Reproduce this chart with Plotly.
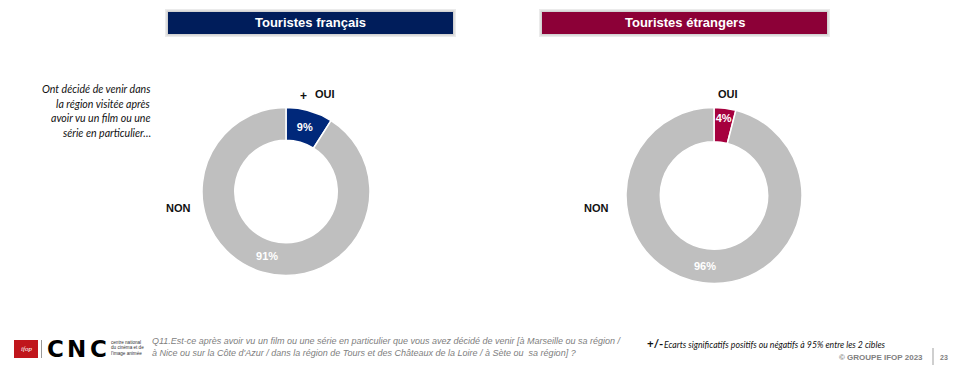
import plotly.graph_objects as go

W, H = 961, 365

# Data
segments = ["OUI", "NON"]
francais = [9, 91]
etrangers = [4, 96]
panel_titles = ["Touristes français", "Touristes étrangers"]
question = ["Q11.Est-ce après avoir vu un film ou une série en particulier que vous avez décidé de venir [à Marseille ou sa région /",
            "à Nice ou sur la Côte d'Azur / dans la région de Tours et des Châteaux de la Loire / à Sète ou  sa région] ?"]
side_note = ["Ont décidé de venir dans", "la région visitée après", "avoir vu un film ou une", "série en particulier…"]

GRAY = "#BFBFBF"
NAVY_T, NAVY = "#001D5B", "#00287A"
RED_T, RED = "#8C0037", "#A6003E"


def px(x):
    return x / W


def py(y):
    return 1 - y / H


fig = go.Figure()

def add_donut(values, color, cx, cy, r):
    fig.add_trace(go.Pie(
        labels=segments, values=values, sort=False, direction="clockwise", rotation=0,
        hole=0.61,
        marker=dict(colors=[color, GRAY], line=dict(color="white", width=1.5)),
        texttemplate="%{value}%", textposition="inside", insidetextorientation="horizontal",
        textfont=dict(family="Liberation Sans", size=11, color="white", weight="bold"),
        domain=dict(x=[px(cx - r), px(cx + r)], y=[py(cy + r), py(cy - r)]),
        showlegend=False, hoverinfo="label+percent",
    ))

add_donut(francais, NAVY, 286, 191.5, 84)
add_donut(etrangers, RED, 714, 195.5, 88)

shapes = []
ann = []

# title boxes
for (x0, x1, col, t) in [(168, 453, NAVY_T, panel_titles[0]), (542, 827, RED_T, panel_titles[1])]:
    shapes.append(dict(type="rect", xref="paper", yref="paper", x0=px(x0 - 3), x1=px(x1 + 3),
                       y0=py(37), y1=py(9), fillcolor="rgba(0,0,0,0.08)", line=dict(width=0), layer="below"))
    shapes.append(dict(type="rect", xref="paper", yref="paper", x0=px(x0 - 1.5), x1=px(x1 + 1.5),
                       y0=py(35.5), y1=py(10.5), fillcolor="rgba(0,0,0,0.10)", line=dict(width=0), layer="below"))
    shapes.append(dict(type="rect", xref="paper", yref="paper", x0=px(x0), x1=px(x1),
                       y0=py(34), y1=py(12), fillcolor=col, line=dict(width=0)))
    ann.append(dict(x=px((x0 + x1) / 2), y=py(23), text=f"<b>{t}</b>", showarrow=False,
                    font=dict(family="Liberation Sans", size=13, color="white"),
                    xanchor="center", yanchor="middle"))

# outside labels
lab_font = dict(family="Liberation Sans", size=11, color="#111111")
for (x, y, t) in [(325, 94, "OUI"), (178, 208, "NON"), (728, 94, "OUI"), (596, 208, "NON")]:
    ann.append(dict(x=px(x), y=py(y), text=f"<b>{t}</b>", showarrow=False, font=lab_font,
                    xanchor="center", yanchor="middle"))
ann.append(dict(x=px(303), y=py(96), text="<b>+</b>", showarrow=False,
                font=dict(family="Liberation Sans", size=12, color="#111111"), xanchor="center", yanchor="middle"))

# side note
for i, line in enumerate(side_note):
    ann.append(dict(x=px(153), y=py(89 + i * 14.6), text=f"<i>{line}</i>", showarrow=False,
                    font=dict(family="Lato", size=10.6, color="#111111"), xanchor="right", yanchor="middle"))

# question
for i, line in enumerate(question):
    ann.append(dict(x=px(150), y=py(341 + i * 11.5), text=f"<i>{line}</i>", showarrow=False,
                    font=dict(family="Liberation Sans", size=9, color="#808080"), xanchor="left", yanchor="middle"))

# significance note
ann.append(dict(x=px(645), y=py(343), text="<b>+/-</b>", showarrow=False,
                font=dict(family="Lato", size=11.5, color="#111111"), xanchor="left", yanchor="middle"))
ann.append(dict(x=px(662), y=py(344), text="<i>Ecarts significatifs positifs ou négatifs à 95% entre les 2 cibles</i>",
                showarrow=False, font=dict(family="Lato", size=8.7, color="#111111"), xanchor="left", yanchor="middle"))

# copyright
ann.append(dict(x=px(925), y=py(357), text="<b>© GROUPE IFOP 2023</b>", showarrow=False,
                font=dict(family="Liberation Sans", size=8, color="#808080"), xanchor="right", yanchor="middle"))
shapes.append(dict(type="line", xref="paper", yref="paper", x0=px(933), x1=px(933), y0=py(365), y1=py(348),
                   line=dict(color="#BFBFBF", width=1.5)))
ann.append(dict(x=px(944), y=py(357), text="<b>23</b>", showarrow=False,
                font=dict(family="Liberation Sans", size=7, color="#808080"), xanchor="center", yanchor="middle"))

# logos
shapes.append(dict(type="rect", xref="paper", yref="paper", x0=px(14), x1=px(38), y0=py(358), y1=py(340),
                   fillcolor="#C0161C", line=dict(width=0)))
ann.append(dict(x=px(26), y=py(349), text="<i>ifop</i>", showarrow=False,
                font=dict(family="Liberation Serif", size=7, color="white"), xanchor="center", yanchor="middle"))
shapes.append(dict(type="line", xref="paper", yref="paper", x0=px(41.5), x1=px(41.5), y0=py(358), y1=py(340),
                   line=dict(color="#999999", width=1)))
for cxl, ch in [(55, "C"), (76, "N"), (98, "C")]:
    ann.append(dict(x=px(cxl), y=py(349), text=f"<b>{ch}</b>", showarrow=False,
                    font=dict(family="DejaVu Sans", size=23, color="black"), xanchor="center", yanchor="middle"))
for i, t in enumerate(["centre national", "du cinéma et de", "l'image animée"]):
    ann.append(dict(x=px(109), y=py(342 + i * 5.8), text=t, showarrow=False,
                    font=dict(family="Liberation Sans", size=4.6, color="#333333"), xanchor="left", yanchor="middle"))

fig.update_layout(
    width=W, height=H, margin=dict(l=0, r=0, t=0, b=0),
    paper_bgcolor="white", plot_bgcolor="white",
    shapes=shapes, annotations=ann,
    uniformtext=dict(minsize=11, mode="show"),
)

fig.write_html("out.html", config={"displayModeBar": False},
               post_script="document.body.style.margin='0';document.body.style.overflow='hidden';")
